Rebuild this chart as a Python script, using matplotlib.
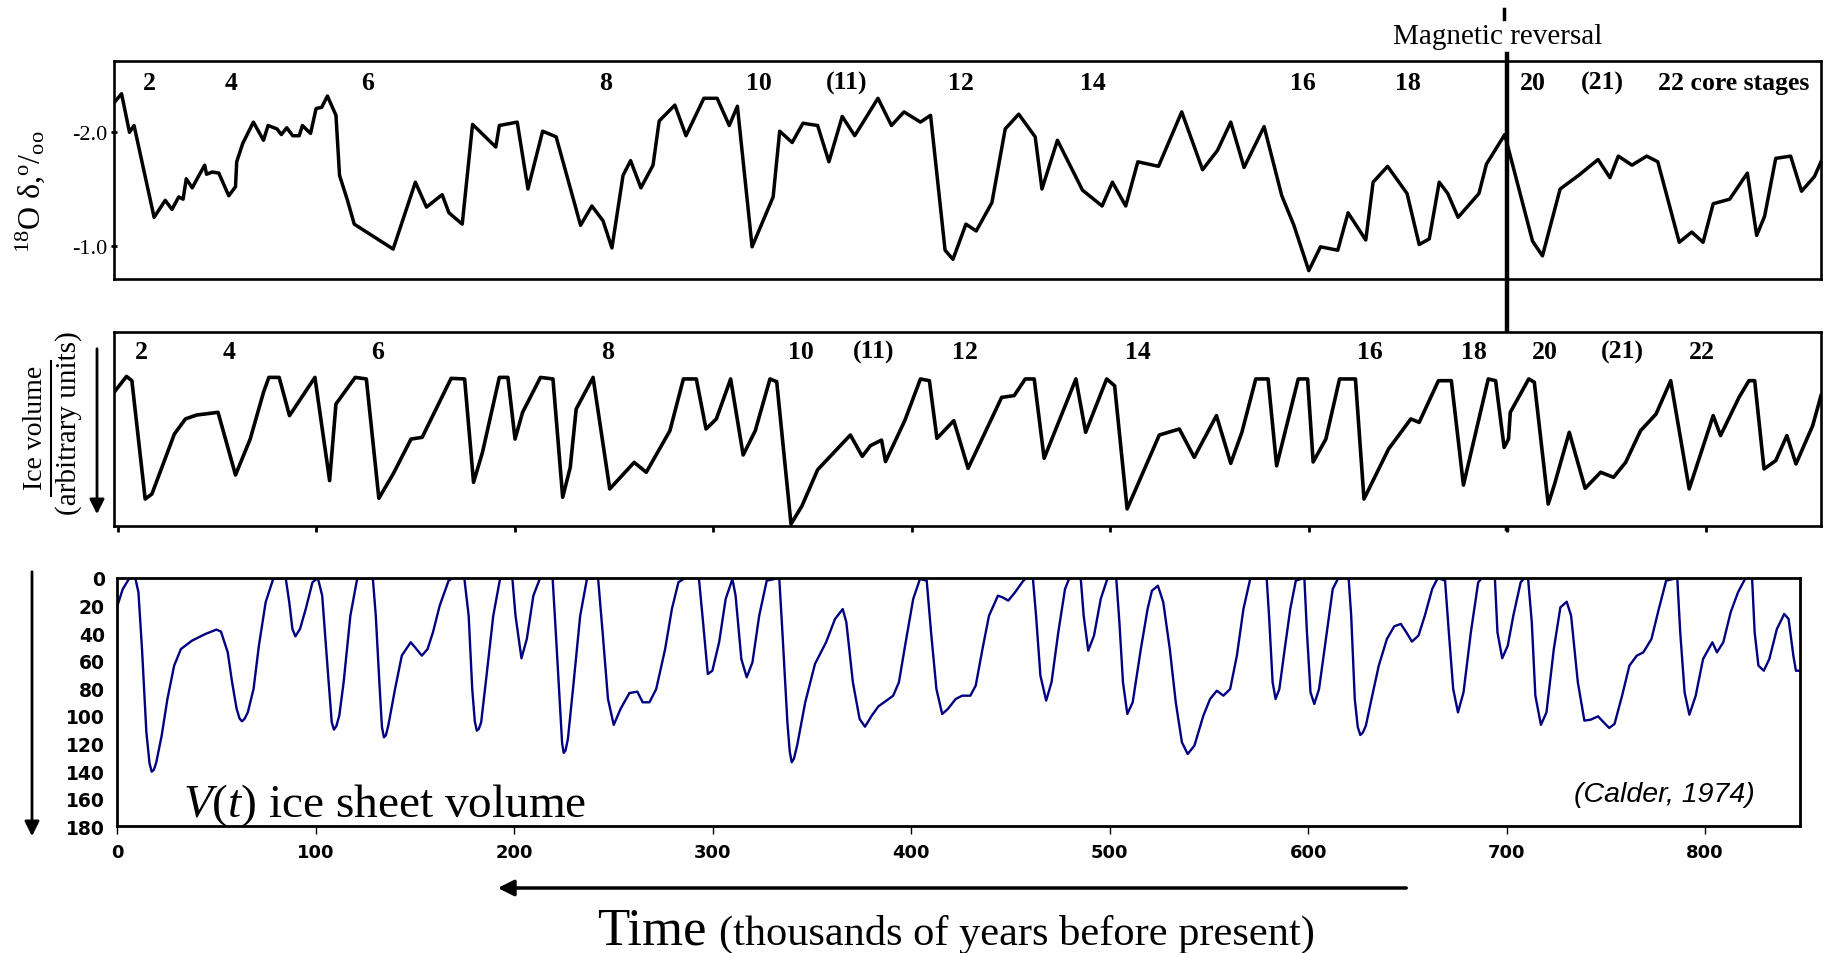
import matplotlib
matplotlib.use("Agg")
import matplotlib.pyplot as plt
from matplotlib.lines import Line2D
from matplotlib.transforms import blended_transform_factory as blend

# --- oxygen isotope record (top panel), kyr BP vs per mil ---
d18o_kyr = [-1.8, 2, 6, 8.3, 18.4, 24, 27.4, 30.8, 33, 34.6, 37.6, 41, 43.9, 44.8, 47.7, 51,
            56, 59.4, 60, 63, 68.4, 73.5, 75.8, 80.3, 82.5, 85.2, 88.2, 91.5, 93.1, 97.2, 100,
            102.8, 105.7, 110, 111.8, 115.8, 119.2, 138.8, 150, 155.6, 163.5, 166.9, 173.6,
            178.8, 190.5, 192.3, 201.3, 206.7, 214.1, 220.9, 233.2, 238.9, 244.5, 249, 254.6,
            258.4, 263.6, 269.7, 272.8, 280.7, 286.3, 295.3, 302, 308.1, 312.2, 319.6, 330.2,
            333.5, 339.8, 345.2, 352.6, 358.3, 365, 371.3, 383, 389.8, 396.1, 404.4, 409.5,
            416.8, 420.8, 427.3, 432.5, 440.4, 447.1, 453.9, 462.2, 465.6, 473.4, 479.7, 486,
            495.9, 501.1, 507.8, 513.9, 524.3, 536, 546.5, 554, 560.7, 567.4, 577.5, 586.4,
            592.5, 600, 605.9, 614.6, 619.8, 628.7, 632.4, 639.7, 649.5, 655.6, 660.7, 665.7,
            670, 675.2, 685.7, 689.5, 698.7, 712.7, 717.7, 726.6, 735.9, 745.7, 751.7, 755.9,
            762.8, 770.2, 775.8, 786.6, 792.9, 798.6, 803.7, 812, 820.9, 825.6, 829.6, 835.2,
            842.7, 848.2, 854.7, 858]
d18o_val = [-2.26, -2.34, -2.00, -2.06, -1.25, -1.40, -1.32, -1.43, -1.41, -1.59, -1.51, -1.62,
            -1.71, -1.63, -1.65, -1.64, -1.44, -1.52, -1.74, -1.90, -2.09, -1.93, -2.06, -2.03,
            -1.98, -2.04, -1.97, -1.97, -2.06, -1.99, -2.21, -2.22, -2.32, -2.15, -1.62, -1.40,
            -1.19, -0.97, -1.56, -1.34, -1.45, -1.29, -1.19, -2.07, -1.87, -2.06, -2.09, -1.50,
            -2.01, -1.96, -1.18, -1.35, -1.22, -0.98, -1.62, -1.75, -1.51, -1.71, -2.10, -2.24,
            -1.97, -2.30, -2.30, -2.06, -2.23, -0.99, -1.43, -2.01, -1.91, -2.08, -2.06, -1.74,
            -2.14, -1.97, -2.30, -2.06, -2.18, -2.09, -2.15, -0.96, -0.88, -1.19, -1.13, -1.38,
            -2.03, -2.16, -1.96, -1.50, -1.93, -1.71, -1.49, -1.35, -1.56, -1.35, -1.74, -1.70,
            -2.18, -1.67, -1.84, -2.09, -1.69, -2.05, -1.44, -1.18, -0.78, -0.99, -0.96, -1.29,
            -1.05, -1.56, -1.70, -1.46, -1.01, -1.06, -1.56, -1.46, -1.25, -1.46, -1.72, -1.98,
            -1.04, -0.91, -1.50, -1.62, -1.76, -1.60, -1.79, -1.71, -1.79, -1.74, -1.03, -1.12,
            -1.03, -1.37, -1.41, -1.64, -1.09, -1.26, -1.77, -1.79, -1.48, -1.61, -1.74]

# --- ice volume, arbitrary units (middle panel) ---
ice_kyr = [-1.8, 4.5, 7.2, 13.9, 17.3, 28.6, 34.2, 39.8, 50.6, 59.4, 66.8, 73.5, 76.2, 81.4,
           86.6, 99.4, 106.8, 110, 119.7, 125.3, 131.6, 138.8, 147.8, 153.4, 168, 174.8, 179.3,
           183.8, 192.3, 196.6, 200.2, 204, 213, 219.3, 224.2, 228, 231, 239.5, 247.9, 260.2,
           266.3, 278.2, 285, 291.5, 296.4, 301.6, 308.8, 315.1, 321.2, 328.6, 332, 339.2,
           344.8, 352.6, 369.1, 375.1, 379.2, 384.8, 386.8, 396.5, 404.4, 408.9, 412.7, 421.2,
           428.4, 445.3, 451.6, 457.2, 461.7, 466.7, 482.7, 487.6, 498.2, 502.2, 508.5, 524.7,
           534.8, 542.3, 553.5, 560.7, 566.3, 573.3, 579.5, 583.8, 594.7, 599.4, 602.2, 608.6,
           615.5, 623.5, 627.8, 640.2, 651.4, 655.6, 665.3, 671.8, 677.9, 690.4, 694.1, 698.4,
           700.6, 701.5, 710.8, 713.6, 720.6, 723.8, 731.2, 739.2, 747, 753.5, 759.6, 767.1,
           774.9, 782.3, 791.6, 803.7, 807.4, 816.7, 821.7, 824.6, 829.3, 835.2, 840.8, 845.4,
           853.8, 858]
ice_val = [68.9, 77.1, 74.9, 13.9, 16.5, 47.4, 55.2, 57.2, 58.6, 26.3, 44.8, 68.9, 76.6, 76.6,
           56.9, 76.6, 23.4, 62.9, 76.6, 75.8, 14.3, 26.8, 44.8, 45.7, 76.1, 75.8, 22.5, 38.0,
           76.6, 76.6, 44.8, 58.6, 76.6, 75.8, 14.8, 30.2, 60.3, 76.6, 19.1, 32.8, 27.7, 49.1,
           75.8, 75.8, 50.0, 55.2, 75.8, 36.6, 49.1, 75.8, 74.4, 1.0, 10.5, 29.0, 46.9, 35.9,
           41.4, 44.3, 33.2, 54.3, 75.8, 74.9, 45.2, 54.3, 29.7, 66.3, 67.2, 75.8, 75.8, 34.9,
           75.8, 48.3, 75.8, 72.3, 8.8, 46.9, 50.0, 35.4, 56.9, 32.3, 48.3, 75.8, 75.8, 31.0,
           75.8, 75.8, 33.0, 44.8, 75.8, 75.8, 13.9, 39.7, 55.2, 53.4, 74.9, 74.9, 21.1, 75.8,
           74.9, 40.5, 44.8, 58.6, 75.8, 74.1, 11.3, 21.6, 48.3, 19.4, 27.7, 25.1, 32.8, 49.1,
           57.7, 74.9, 19.1, 56.9, 46.6, 66.3, 74.9, 74.9, 29.4, 33.7, 46.6, 32.0, 51.7, 67.2]

# --- modelled ice sheet volume V(t) (bottom panel) ---
vol_kyr = [0, 2.7, 6.1, 9, 10.6, 12.4, 14.6, 16.2, 17.3, 18.4, 19.6, 22.3, 25.2, 28.6, 32,
           37.6, 44.3, 49.9, 52.2, 55.6, 57.8, 60.1, 61.6, 62.8, 64.1, 65.7, 68.6, 71.3, 74.7,
           78.5, 84.8, 86.6, 88.2, 89.7, 92, 94.9, 98.3, 101, 103.2, 106.2, 108, 109.1, 110.3,
           111.8, 114, 117.4, 120.8, 128.7, 130.2, 132, 133.3, 134.3, 135.3, 136.5, 139.9,
           143.3, 147.8, 150, 153.4, 156.3, 159, 162.4, 166.9, 169.1, 174.8, 177, 178.8, 180.1,
           181.1, 182.1, 183.3, 186, 189.4, 192.8, 199, 200.6, 203.6, 206.3, 209.6, 213, 219.3,
           220.9, 223.1, 224.1, 224.9, 225.8, 227, 229.9, 233.2, 236.6, 242.2, 244.5, 247.2,
           250.1, 253.5, 258, 262, 264.7, 268.1, 271.5, 276, 279.4, 282.7, 286.1, 293, 294.8,
           297.5, 299.8, 303.2, 306.5, 309.9, 311.5, 314.4, 317.1, 320, 323.4, 327.2, 333.5,
           335.1, 337.6, 338.8, 339.8, 340.9, 342.5, 346.6, 351.5, 357.1, 361.6, 365.5, 367.3,
           370.6, 374, 376.7, 380.1, 383.5, 387.5, 390.9, 393.8, 397.2, 401, 404.4, 407.8, 410,
           412.7, 415.6, 418.5, 422.4, 425.7, 429.8, 432.5, 435.9, 439.2, 443.7, 446, 448.9,
           452.3, 456.1, 457.9, 461.3, 462.9, 465.1, 468, 470.7, 474.1, 477.5, 479.7, 485.4,
           486.9, 489.2, 492.1, 495.5, 498.8, 503.3, 504.9, 506.7, 508.9, 511.6, 515.7, 519.1,
           521.3, 524.3, 527, 530.3, 533.3, 536.4, 539.3, 542.7, 547.2, 550.6, 554, 557.3,
           560.7, 564.1, 567.4, 570.8, 579.1, 580.3, 582.1, 583.6, 585.5, 588.2, 591, 593.8,
           598.1, 599.4, 601.2, 603.1, 605.5, 608.7, 612.4, 615.2, 620.4, 621.7, 623.5, 625,
           626.3, 627.6, 629.1, 632.3, 635.6, 639.7, 643.4, 646.7, 649.5, 652.3, 655.6, 658.8,
           662.5, 665.3, 669, 670.9, 673.1, 675.5, 678.3, 682, 685.7, 687.6, 694.1, 695.4,
           697.8, 700.6, 703.4, 707.1, 709, 710.8, 712.7, 714.5, 717.3, 720.1, 723.8, 727.1,
           730.3, 732.5, 735.9, 739.2, 742.4, 746.1, 748.9, 751.7, 754.4, 758.2, 761.9, 765.6,
           768.9, 773, 776.7, 780.4, 786, 787.5, 789.7, 792.1, 795.3, 799, 803.7, 806, 809.2,
           812.9, 816.6, 820.4, 823.7, 825, 826.9, 829.6, 832.4, 836.2, 839.9, 842.1, 844.5,
           845.8, 847.8]
vol_val = [20.1, 8.0, 0, 0, 10.4, 51.5, 111.9, 134.5, 140.4, 139.0, 133.6, 114.3, 87.7, 63.5,
           51.5, 45.4, 40.6, 37.4, 38.9, 53.9, 75.6, 95.0, 102.0, 103.9, 102.0, 97.4, 80.5, 49.0,
           17.6, 0.7, 0, 17.6, 37.0, 42.3, 37.0, 22.5, 3.1, 0, 12.8, 70.8, 104.5, 109.9, 107.5,
           99.8, 75.6, 27.3, 0.7, 0, 27.3, 75.6, 108.0, 115.5, 114.0, 107.0, 80.5, 56.3, 46.6,
           50.3, 56.3, 51.5, 39.4, 20.1, 1.9, 0, 0, 27.3, 80.5, 104.0, 110.7, 109.5, 104.6, 70.8,
           27.3, 0.7, 0, 27.3, 58.2, 44.2, 12.8, 0, 0, 39.4, 95.0, 120.0, 126.8, 125.0, 116.7,
           75.6, 27.3, 0.7, 0, 39.4, 87.7, 106.5, 95.0, 83.4, 82.4, 90.1, 90.1, 80.5, 51.5, 22.5,
           3.1, 0, 0, 27.3, 69.6, 67.2, 46.6, 15.2, 0.7, 12.8, 58.7, 72.0, 61.1, 27.3, 1.9, 0,
           39.4, 104.6, 126.0, 133.6, 131.0, 121.5, 90.1, 62.3, 46.6, 29.7, 22.5, 32.1, 75.6,
           102.2, 107.8, 99.8, 93.0, 88.9, 85.3, 75.6, 46.6, 15.2, 0.7, 1.9, 39.4, 80.5, 98.6,
           94.9, 87.7, 85.3, 85.3, 78.0, 51.5, 27.3, 12.8, 14.0, 16.4, 10.4, 2.7, 0, 0, 27.3,
           70.8, 88.9, 75.6, 39.4, 8.0, 0, 0, 27.3, 52.7, 41.8, 15.2, 0.7, 0, 32.1, 75.6, 98.6,
           90.1, 51.5, 22.5, 9.2, 5.6, 17.6, 51.5, 90.1, 119.1, 127.6, 121.5, 99.8, 87.7, 81.7,
           85.3, 80.5, 56.3, 22.5, 0.7, 0, 27.3, 75.6, 87.7, 80.5, 51.5, 22.5, 1.9, 0, 39.4,
           82.9, 91.3, 80.5, 46.6, 8.0, 0, 0, 27.3, 87.7, 108.0, 113.8, 112.0, 107.0, 85.3, 63.5,
           44.2, 35.0, 33.3, 39.4, 46.1, 41.8, 27.3, 8.0, 0, 1.9, 39.4, 80.5, 97.4, 82.9, 39.4,
           3.1, 0, 0, 39.4, 58.2, 49.0, 27.3, 3.1, 0, 0, 32.1, 85.3, 106.5, 97.4, 51.5, 21.3,
           17.2, 27.3, 75.6, 103.4, 102.7, 100.3, 104.6, 108.7, 105.8, 85.3, 63.5, 56.3, 53.9,
           44.2, 22.5, 1.9, 0, 39.4, 82.9, 99.1, 85.3, 58.7, 46.6, 53.9, 46.6, 24.9, 10.4, 0, 0,
           39.4, 63.5, 67.2, 58.7, 37.0, 26.1, 29.7, 56.3, 67.2, 67.2]

# core stage numbers written across the two upper panels
top_stage_txt = ["2", "4", "6", "8", "10", "(11)", "12", "14", "16", "18", "20", "(21)",
                 "22 core stages"]
top_stage_kyr = [16, 57, 126, 246, 323, 367, 425, 491, 597, 650, 713, 748, 814]
mid_stage_txt = ["2", "4", "6", "8", "10", "(11)", "12", "14", "16", "18", "20", "(21)", "22"]
mid_stage_kyr = [12, 56, 131, 247, 344, 381, 427, 514, 631, 683, 719, 758, 798]
reversal_kyr = 700

plt.rcParams["font.family"] = ["Liberation Serif", "DejaVu Serif"]
plt.rcParams["mathtext.fontset"] = "custom"
plt.rcParams["mathtext.rm"] = "Liberation Serif"
plt.rcParams["mathtext.it"] = "Liberation Serif:italic"

W, H = 1828, 954


def box(x0, y0, x1, y1):
    # pixel box, origin top-left -> figure fraction rect
    return [x0 / W, 1 - y1 / H, (x1 - x0) / W, (y1 - y0) / H]


def fx(x):
    return x / W


def fy(y):
    return 1 - y / H


fig = plt.figure(figsize=(W / 100, H / 100), dpi=100)
ax1 = fig.add_axes(box(114, 62, 1821, 280))
ax2 = fig.add_axes(box(114, 333, 1821, 527))
ax3 = fig.add_axes(box(117.4, 579, 1800.3, 827.3))

# top: d18O
ax1.plot(d18o_kyr, d18o_val, color="black", lw=2.5)
ax1.set_xlim(-1.8, 858)
ax1.set_ylim(-0.706, -2.629)
ax1.set_xticks([])
ax1.set_yticks([-2.0, -1.0])
ax1.set_yticklabels(["-2.0", "-1.0"])
ax1.tick_params(axis="y", direction="inout", length=5, width=2, labelsize=16, pad=2)
tr1 = blend(ax1.transData, ax1.transAxes)
for t, k in zip(top_stage_txt, top_stage_kyr):
    ax1.text(k, 0.90, t, transform=tr1, ha="center", va="center", fontsize=18.5,
             fontweight="bold")

# middle: ice volume
ax2.plot(ice_kyr, ice_val, color="black", lw=2.6)
ax2.set_xlim(-1.8, 858)
ax2.set_ylim(0, 100)
ax2.set_yticks([])
ax2.set_xticks(range(0, 801, 100))
ax2.tick_params(axis="x", direction="out", length=4, width=2, labelbottom=False)
tr2 = blend(ax2.transData, ax2.transAxes)
for t, k in zip(mid_stage_txt, mid_stage_kyr):
    ax2.text(k, 0.90, t, transform=tr2, ha="center", va="center", fontsize=18.5,
             fontweight="bold")

for ax in (ax1, ax2):
    for s in ax.spines.values():
        s.set_linewidth(1.9)

# magnetic reversal line through both upper panels
ax1.plot([reversal_kyr, reversal_kyr], [1.032, -1.147], transform=tr1, color="black",
         lw=3.2, clip_on=False)
ax1.plot([reversal_kyr - 1.5, reversal_kyr - 1.5], [1.238, 1.193], transform=tr1,
         color="black", lw=2.5, clip_on=False)
ax1.text(695, 1.115, "Magnetic reversal", transform=tr1, ha="center", va="center", fontsize=21)

# bottom: model
ax3.plot(vol_kyr, vol_val, color="#000080", lw=1.7, solid_joinstyle="round")
ax3.set_xlim(0, 848)
ax3.set_ylim(180, 0)
ax3.set_yticks(range(0, 181, 20))
ax3.set_xticks(range(0, 801, 100))
ax3.tick_params(axis="y", length=0, pad=9, labelsize=13.5)
ax3.tick_params(axis="x", direction="out", length=6, width=1, pad=6, labelsize=13)
for lbl in ax3.get_xticklabels() + ax3.get_yticklabels():
    lbl.set_fontfamily("DejaVu Sans")
    lbl.set_fontweight("bold")
for s in ax3.spines.values():
    s.set_linewidth(2.0)
ax3.text(33, 172.5, r"$\mathit{V(t)}$ ice sheet volume", fontsize=34, ha="left", va="baseline")
ax3.text(825, 156.6, "(Calder, 1974)", fontsize=20.5, ha="right", va="center",
         family="Liberation Sans", style="italic")

# axis labels and arrows drawn on the figure
fig.text(fx(30), fy(192), r"$^{18}$O δ,$^{\mathrm{o}}/_{\mathrm{oo}}$", rotation=90,
         ha="center", va="center", fontsize=23)
fig.text(fx(36), fy(428), "Ice volume", rotation=90, ha="center", va="center", fontsize=20)
fig.text(fx(69), fy(423), "(arbitrary units)", rotation=90, ha="center", va="center",
         fontsize=21)
fig.add_artist(Line2D([fx(51), fx(51)], [fy(362), fy(497)], color="black", lw=1.5))

arrow = dict(arrowstyle="-|>", color="black", lw=2, mutation_scale=22)
ax3.annotate("", xy=(fx(97), fy(518)), xytext=(fx(97), fy(347)), xycoords="figure fraction",
             arrowprops=arrow)
ax3.annotate("", xy=(fx(32), fy(840)), xytext=(fx(32), fy(570)), xycoords="figure fraction",
             arrowprops=arrow)
ax3.annotate("", xy=(fx(495), fy(889)), xytext=(fx(1409), fy(889)), xycoords="figure fraction",
             arrowprops=dict(arrowstyle="-|>", color="black", lw=2.5, mutation_scale=24))

fig.text(fx(597), fy(945), "Time", fontsize=38, va="baseline", ha="left")
fig.text(fx(719), fy(945), "(thousands of years before present)", fontsize=30.5,
         va="baseline", ha="left")

fig.savefig("out.png", dpi=100)
